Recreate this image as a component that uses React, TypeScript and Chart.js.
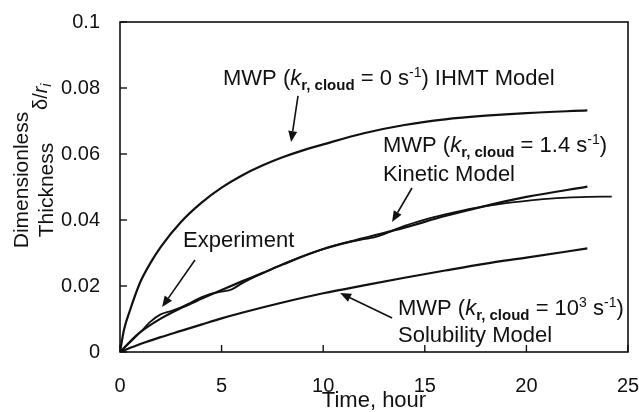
import React, { useEffect, useRef } from "react";
import { Chart, registerables } from "chart.js";

Chart.register(...registerables);

const FONT = "'Liberation Sans', Arial, Helvetica, sans-serif";
const INK = "#111";

// MWP IHMT model (k_r,cloud = 0 s^-1)
const ihmtTime = [0, 0.2, 0.5, 1, 1.5, 2, 3, 4, 5, 6, 7, 8, 9, 10, 12, 14, 16, 18, 20, 23];
const ihmtThickness = [0, 0.0068, 0.0128, 0.0212, 0.027, 0.0318, 0.0394, 0.0452, 0.0498, 0.0535, 0.0565, 0.059, 0.0611, 0.0629, 0.0663, 0.0688, 0.0705, 0.0716, 0.0724, 0.0732];

// MWP kinetic model (k_r,cloud = 1.4 s^-1)
const kineticTime = [0, 0.5, 1, 2, 3, 4, 5, 6, 7, 8, 10, 12, 14, 16, 18, 20, 23];
const kineticThickness = [0, 0.0032, 0.006, 0.0101, 0.0133, 0.0161, 0.0188, 0.0214, 0.0239, 0.0265, 0.0312, 0.0345, 0.0377, 0.0412, 0.0443, 0.047, 0.0501];

// Measured thickness
const experimentTime = [0, 0.5, 1, 1.5, 2, 2.5, 3, 3.5, 4, 4.5, 5, 5.5, 6, 7, 8, 9, 10, 11, 12, 12.5, 13, 13.5, 14, 15, 16, 17, 18, 19, 20, 21, 22, 23, 24.2];
const experimentThickness = [0, 0.003, 0.006, 0.0092, 0.0114, 0.0124, 0.0135, 0.015, 0.0166, 0.0177, 0.0183, 0.019, 0.0208, 0.0238, 0.0266, 0.0291, 0.0312, 0.033, 0.0342, 0.0347, 0.0357, 0.037, 0.0382, 0.0401, 0.0417, 0.0431, 0.0442, 0.0451, 0.0458, 0.0464, 0.0468, 0.047, 0.0471];

// MWP solubility model (k_r,cloud = 10^3 s^-1)
const solubilityTime = [0, 1, 2, 3, 4, 5, 6, 8, 10, 12, 14, 16, 18, 20, 23];
const solubilityThickness = [0, 0.0024, 0.0045, 0.0064, 0.0083, 0.0102, 0.0119, 0.015, 0.0178, 0.0202, 0.0225, 0.0247, 0.0268, 0.0286, 0.0314];

const xTitle = "Time, hour";
const yTitleLines = ["Dimensionless", "Thickness"];

type Seg = { text: string; size?: number; style?: string; weight?: string; dy?: number };

// Callouts placed in data units (time, thickness)
const callouts: { lines: { at: [number, number]; segs: Seg[] }[]; arrow: [number, number, number, number] }[] = [
  {
    lines: [
      {
        at: [5.07, 0.0809],
        segs: [
          { text: "MWP (" },
          { text: "k", style: "italic" },
          { text: "r, cloud", size: 15, weight: "bold", dy: 5 },
          { text: " = 0 s" },
          { text: "-1", size: 14, dy: -8 },
          { text: ") IHMT Model" },
        ],
      },
    ],
    arrow: [8.76, 0.0776, 8.42, 0.0636],
  },
  {
    lines: [
      {
        at: [12.94, 0.0606],
        segs: [
          { text: "MWP (" },
          { text: "k", style: "italic" },
          { text: "r, cloud", size: 15, weight: "bold", dy: 5 },
          { text: " = 1.4 s" },
          { text: "-1", size: 14, dy: -8 },
          { text: ")" },
        ],
      },
      { at: [12.94, 0.0518], segs: [{ text: "Kinetic Model" }] },
    ],
    arrow: [14.37, 0.0497, 13.39, 0.0394],
  },
  {
    lines: [{ at: [3.1, 0.0318], segs: [{ text: "Experiment" }] }],
    arrow: [3.69, 0.0279, 2.07, 0.0136],
  },
  {
    lines: [
      {
        at: [13.68, 0.0112],
        segs: [
          { text: "MWP (" },
          { text: "k", style: "italic" },
          { text: "r, cloud", size: 15, weight: "bold", dy: 5 },
          { text: " = 10" },
          { text: "3", size: 14, dy: -8 },
          { text: " s" },
          { text: "-1", size: 14, dy: -8 },
          { text: ")" },
        ],
      },
      { at: [13.68, 0.003], segs: [{ text: "Solubility Model" }] },
    ],
    arrow: [13.39, 0.0103, 10.83, 0.0179],
  },
];

function font(s: Seg, base: number) {
  return `${s.style || "normal"} ${s.weight || "normal"} ${s.size || base}px ${FONT}`;
}

function drawRich(ctx: CanvasRenderingContext2D, segs: Seg[], x: number, y: number, base: number) {
  let cx = x;
  for (const s of segs) {
    ctx.font = font(s, base);
    ctx.fillText(s.text, cx, y + (s.dy || 0));
    cx += ctx.measureText(s.text).width;
  }
}

function drawArrow(ctx: CanvasRenderingContext2D, x1: number, y1: number, x2: number, y2: number) {
  const ang = Math.atan2(y2 - y1, x2 - x1);
  const len = 11;
  const half = 4.5;
  const bx = x2 - len * Math.cos(ang);
  const by = y2 - len * Math.sin(ang);
  ctx.beginPath();
  ctx.moveTo(x1, y1);
  ctx.lineTo(bx, by);
  ctx.lineWidth = 1.6;
  ctx.stroke();
  ctx.beginPath();
  ctx.moveTo(x2, y2);
  ctx.lineTo(bx + half * Math.sin(ang), by - half * Math.cos(ang));
  ctx.lineTo(bx - half * Math.sin(ang), by + half * Math.cos(ang));
  ctx.closePath();
  ctx.fill();
}

const framePlugin = {
  id: "frameAndTicks",
  afterDatasetsDraw(chart: any) {
    const { ctx, chartArea: a, scales } = chart;
    ctx.save();
    ctx.strokeStyle = INK;
    ctx.lineWidth = 1.6;
    ctx.strokeRect(a.left, a.top, a.right - a.left, a.bottom - a.top);
    ctx.lineWidth = 1.4;
    const tl = 7;
    for (const t of scales.x.ticks) {
      const px = scales.x.getPixelForValue(t.value);
      ctx.beginPath();
      ctx.moveTo(px, a.bottom);
      ctx.lineTo(px, a.bottom - tl);
      ctx.stroke();
    }
    for (const t of scales.y.ticks) {
      const py = scales.y.getPixelForValue(t.value);
      ctx.beginPath();
      ctx.moveTo(a.left, py);
      ctx.lineTo(a.left + tl, py);
      ctx.stroke();
    }
    ctx.restore();
  },
};

const calloutPlugin = {
  id: "callouts",
  afterDraw(chart: any) {
    const { ctx, scales } = chart;
    const X = (v: number) => scales.x.getPixelForValue(v);
    const Y = (v: number) => scales.y.getPixelForValue(v);
    ctx.save();
    ctx.fillStyle = INK;
    ctx.strokeStyle = INK;
    ctx.textBaseline = "alphabetic";
    ctx.textAlign = "left";
    for (const c of callouts) {
      for (const l of c.lines) drawRich(ctx, l.segs, X(l.at[0]), Y(l.at[1]), 22);
      const [x1, y1, x2, y2] = c.arrow;
      drawArrow(ctx, X(x1), Y(y1), X(x2), Y(y2));
    }
    ctx.restore();
  },
};

const yTitlePlugin = {
  id: "yTitle",
  afterDraw(chart: any) {
    const { ctx } = chart;
    ctx.save();
    ctx.fillStyle = INK;
    ctx.textAlign = "center";
    ctx.textBaseline = "middle";
    ctx.font = `21px ${FONT}`;
    const spots: [number, number][] = [
      [22, 180],
      [47, 190],
    ];
    yTitleLines.forEach((t, i) => {
      ctx.save();
      ctx.translate(spots[i][0], spots[i][1]);
      ctx.rotate(-Math.PI / 2);
      ctx.fillText(t, 0, 0);
      ctx.restore();
    });
    // δ/r_i symbol above the title
    ctx.save();
    ctx.translate(47, 110);
    ctx.rotate(-Math.PI / 2);
    ctx.textAlign = "left";
    ctx.textBaseline = "alphabetic";
    drawRich(
      ctx,
      [
        { text: "δ/" },
        { text: "r", style: "italic" },
        { text: "i", style: "italic", size: 14, dy: 4 },
      ],
      0,
      0,
      20
    );
    ctx.restore();
    ctx.restore();
  },
};

function toPoints(xs: number[], ys: number[]) {
  return xs.map((x, i) => ({ x, y: ys[i] }));
}

export default function App() {
  const ref = useRef<HTMLCanvasElement | null>(null);

  useEffect(() => {
    if (!ref.current) return;
    const line = (label: string, xs: number[], ys: number[], w: number) => ({
      label,
      data: toPoints(xs, ys),
      showLine: true,
      borderColor: INK,
      backgroundColor: INK,
      borderWidth: w,
      pointRadius: 0,
      cubicInterpolationMode: "monotone" as const,
      fill: false,
    });
    const chart = new Chart(ref.current, {
      type: "scatter",
      data: {
        datasets: [
          line("MWP IHMT Model", ihmtTime, ihmtThickness, 2.2),
          line("MWP Kinetic Model", kineticTime, kineticThickness, 2.2),
          line("Experiment", experimentTime, experimentThickness, 1.8),
          line("MWP Solubility Model", solubilityTime, solubilityThickness, 2.2),
        ],
      },
      options: {
        responsive: false,
        animation: false,
        devicePixelRatio: 1,
        layout: { padding: { top: 22, right: 11, left: 0, bottom: 0 } },
        plugins: { legend: { display: false }, tooltip: { enabled: false } },
        scales: {
          x: {
            type: "linear",
            min: 0,
            max: 25,
            grid: { display: false, drawTicks: false },
            border: { display: false },
            ticks: { stepSize: 5, padding: 22, color: INK, font: { family: FONT, size: 20 }, maxRotation: 0 },
            title: { display: true, text: xTitle, color: INK, font: { family: FONT, size: 22, lineHeight: 1 }, padding: 0 },
            afterFit: (s: any) => {
              s.height = 60;
              s.paddingLeft = 0;
              s.paddingRight = 0;
            },
          },
          y: {
            type: "linear",
            min: 0,
            max: 0.1,
            grid: { display: false, drawTicks: false },
            border: { display: false },
            ticks: {
              stepSize: 0.02,
              padding: 20,
              color: INK,
              font: { family: FONT, size: 20 },
              callback: (v: any) => String(Number(Number(v).toFixed(2))),
            },
            afterFit: (s: any) => {
              s.width = 120;
              s.paddingTop = 0;
              s.paddingBottom = 0;
            },
          },
        },
      },
      plugins: [framePlugin, calloutPlugin, yTitlePlugin],
    });
    return () => chart.destroy();
  }, []);

  return (
    <div style={{ position: "absolute", left: 0, top: 0, width: 639, height: 412, background: "#fff" }}>
      <canvas ref={ref} width={639} height={412} />
    </div>
  );
}
